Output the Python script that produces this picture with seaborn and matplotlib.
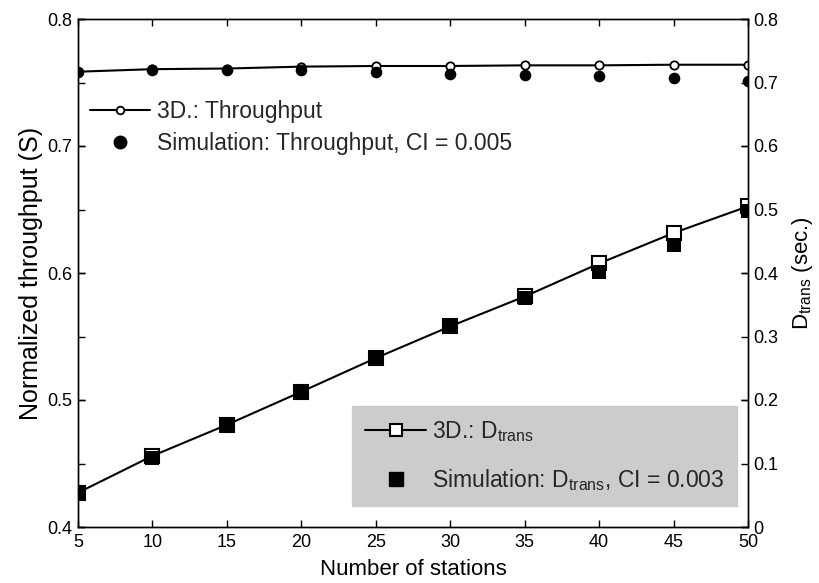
import matplotlib
matplotlib.use("Agg")
import matplotlib.pyplot as plt
from matplotlib.lines import Line2D
import seaborn as sns
import pandas as pd

stations = [5, 10, 15, 20, 25, 30, 35, 40, 45, 50]
tp_3d = [0.7585, 0.7605, 0.761, 0.7625, 0.763, 0.763, 0.7635, 0.7635, 0.764, 0.764]
tp_sim = [0.7585, 0.760, 0.760, 0.7595, 0.7585, 0.757, 0.756, 0.755, 0.7535, 0.751]
d_3d = [0.054, 0.112, 0.161, 0.213, 0.266, 0.316, 0.363, 0.415, 0.463, 0.505]
d_sim = [0.054, 0.108, 0.160, 0.212, 0.266, 0.315, 0.361, 0.402, 0.444, 0.497]

x_ticks = [5, 10, 15, 20, 25, 30, 35, 40, 45, 50]
left_ticks = [0.4, 0.5, 0.6, 0.7, 0.8]
right_ticks = [0, 0.1, 0.2, 0.3, 0.4, 0.5, 0.6, 0.7, 0.8]

sns.set_theme(style="white")
plt.rcParams['font.family'] = ['Liberation Sans', 'DejaVu Sans']
plt.rcParams['mathtext.fontset'] = 'custom'
plt.rcParams['mathtext.rm'] = 'Liberation Sans'
plt.rcParams['mathtext.it'] = 'Liberation Sans'

df = pd.DataFrame({"n": stations, "tp3d": tp_3d, "tpsim": tp_sim,
                   "d3d": d_3d, "dsim": d_sim})

W, H = 819, 583
fig = plt.figure(figsize=(W / 100, H / 100), dpi=100)
ax1 = fig.add_axes([78 / W, 1 - 527 / H, (748 - 78) / W, (527 - 19) / H])
ax2 = ax1.twinx()

lw = 1.5
sns.lineplot(data=df, x="n", y="tp3d", ax=ax1, color="black", linewidth=lw,
             marker="o", markersize=6, markerfacecolor="white",
             markeredgecolor="black", markeredgewidth=1.3, legend=False)
sns.scatterplot(data=df, x="n", y="tpsim", ax=ax1, color="black", marker="o",
                s=70, edgecolor="black", linewidth=0, legend=False, zorder=5)

sns.lineplot(data=df, x="n", y="d3d", ax=ax2, color="black", linewidth=lw,
             marker="s", markersize=10.5, markerfacecolor="white",
             markeredgecolor="black", markeredgewidth=1.5, legend=False)
sns.scatterplot(data=df, x="n", y="dsim", ax=ax2, color="black", marker="s",
                s=112, edgecolor="black", linewidth=0, legend=False, zorder=5)

ax1.set_xlim(5, 50)
ax1.set_ylim(0.4, 0.8)
ax2.set_ylim(0, 0.8)
ax1.set_xticks(x_ticks)
ax1.set_yticks(left_ticks)
ax1.set_yticklabels([f"{v:.1f}" for v in left_ticks])
ax2.set_yticks(right_ticks)
ax2.set_yticklabels(["0"] + [f"{v:.1f}" for v in right_ticks[1:]])

fs_tick = 13
ax1.tick_params(axis="x", direction="in", length=5, width=1, top=True,
                bottom=True, labelsize=fs_tick, pad=5, colors="black")
ax1.tick_params(axis="y", direction="in", length=5, width=1, left=True,
                right=True, labelsize=fs_tick, pad=4, colors="black")
ax2.tick_params(axis="y", direction="in", length=5, width=1, left=True,
                right=True, labelleft=False, labelsize=fs_tick, pad=4,
                colors="black")

for ax in (ax1, ax2):
    for s in ax.spines.values():
        s.set_color("black")
        s.set_linewidth(1.0)

ax1.set_xlabel("Number of stations", fontsize=16, color="black", labelpad=6)
ax1.set_ylabel("Normalized throughput (S)", fontsize=18, color="black",
               labelpad=3)
ax2.set_ylabel(r"D$_{\mathrm{trans}}$ (sec.)", fontsize=16, color="black",
               labelpad=8)

fs_leg = 16.5
h1 = [Line2D([], [], color="black", lw=lw, marker="o", markersize=5.5,
             markerfacecolor="white", markeredgecolor="black",
             markeredgewidth=1.3),
      Line2D([], [], color="black", lw=0, marker="o", markersize=9,
             markerfacecolor="black", markeredgecolor="black")]
leg1 = ax1.legend(h1, ["3D.: Throughput", "Simulation: Throughput, CI = 0.005"],
                  loc="upper left", bbox_to_anchor=(81 / W, 1 - 91 / H),
                  bbox_transform=fig.transFigure, borderaxespad=0,
                  frameon=False, fontsize=fs_leg, handlelength=2.6,
                  handletextpad=0.3, labelspacing=0.4, borderpad=0.4)

h2 = [Line2D([], [], color="black", lw=lw, marker="s", markersize=9,
             markerfacecolor="white", markeredgecolor="black",
             markeredgewidth=1.5),
      Line2D([], [], color="black", lw=0, marker="s", markersize=10.5,
             markerfacecolor="black", markeredgecolor="black")]
leg2 = ax2.legend(h2, [r"3D.: D$_{\mathrm{trans}}$",
                       r"Simulation: D$_{\mathrm{trans}}$, CI = 0.003"],
                  loc="lower right", bbox_to_anchor=(737 / W, 1 - 506 / H),
                  bbox_transform=fig.transFigure, borderaxespad=0,
                  frameon=True, fontsize=fs_leg, handlelength=2.7,
                  handletextpad=0.22, labelspacing=1.0, borderpad=0.57,
                  fancybox=False)
leg2.get_frame().set_facecolor("#cccccc")
leg2.get_frame().set_edgecolor("#cccccc")
leg2.get_frame().set_alpha(1.0)

fig.savefig("out.png", dpi=100)
